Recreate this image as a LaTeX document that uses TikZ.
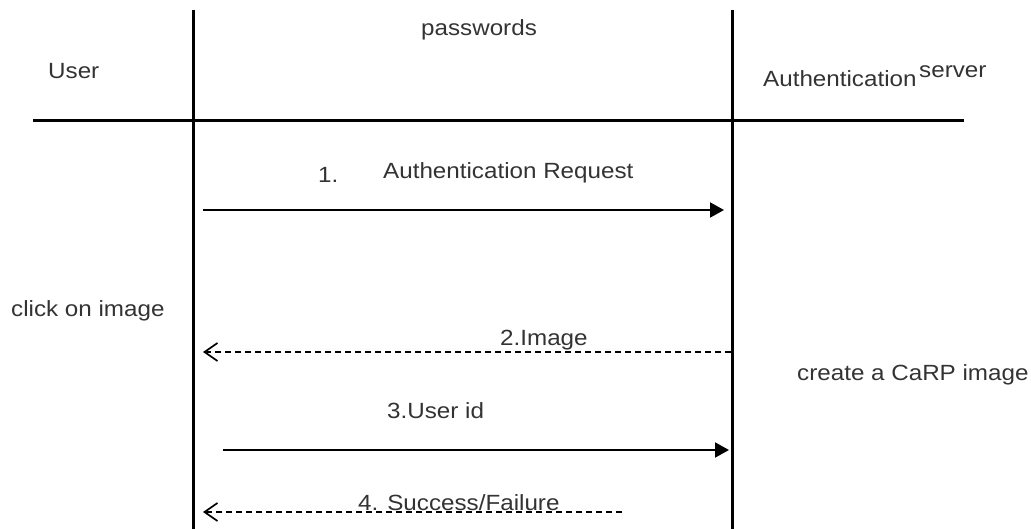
\documentclass[tikz,border=0pt]{standalone}
\usepackage{fontspec}
\setmainfont{Liberation Sans}[FakeStretch=1.1]
\usetikzlibrary{arrows.meta}
\begin{document}
\begin{tikzpicture}[x=1pt,y=-1pt,
  rule/.style={line width=3pt},
  msg/.style={line width=2pt,-{Triangle[length=14pt,width=15pt]}},
  reply/.style={line width=1.7pt,dash pattern=on 6pt off 4pt,-{Straight Barb[length=13pt,width=18pt,line width=1.7pt]}},
  lbl/.style={inner sep=0pt,font=\fontsize{22}{24}\selectfont,text=black!80}]
\useasboundingbox (0,0) rectangle (1031,529);
% lifelines and header rule
\coordinate (ut) at (193,10);  \coordinate (ub) at (193,529);
\coordinate (st) at (732,10);  \coordinate (sb) at (732,529);
\coordinate (hl) at (33,121);  \coordinate (hr) at (964,121);
\draw[rule] (ut) -- (ub);
\draw[rule] (st) -- (sb);
\draw[rule] (hl) -- (hr);
% headers
\node[lbl,anchor=base west] (user) at (48,79) {User};
\node[lbl,anchor=base west] (pw) at (421,36) {passwords};
\node[lbl,anchor=base west] (auth) at (763,87) {Authentication};
\node[lbl,anchor=base west] (srv) at (919,78) {server};
% side notes
\node[lbl,anchor=base west] (click) at (11,317) {click on image};
\node[lbl,anchor=base west] (carp) at (797,380) {create a CaRP image};
% message 1
\coordinate (m1a) at (203,210); \coordinate (m1b) at (724,210);
\draw[msg] (m1a) -- (m1b);
\node[lbl,anchor=base west] (n1) at (318,183) {1.};
\node[lbl,anchor=base west] (t1) at (383,179) {Authentication Request};
% message 2
\coordinate (m2a) at (731,352); \coordinate (m2b) at (203,352);
\draw[reply] (m2a) -- (m2b);
\node[lbl,anchor=base west] (t2) at (500,345) {2.Image};
% message 3
\coordinate (m3a) at (223,450); \coordinate (m3b) at (729,450);
\draw[msg] (m3a) -- (m3b);
\node[lbl,anchor=base west] (t3) at (387,418) {3.User id};
% message 4
\coordinate (m4a) at (622,512); \coordinate (m4b) at (203,512);
\draw[reply] (m4a) -- (m4b);
\node[lbl,anchor=base west] (t4) at (358,510) {4. Success/Failure};
\end{tikzpicture}
\end{document}
